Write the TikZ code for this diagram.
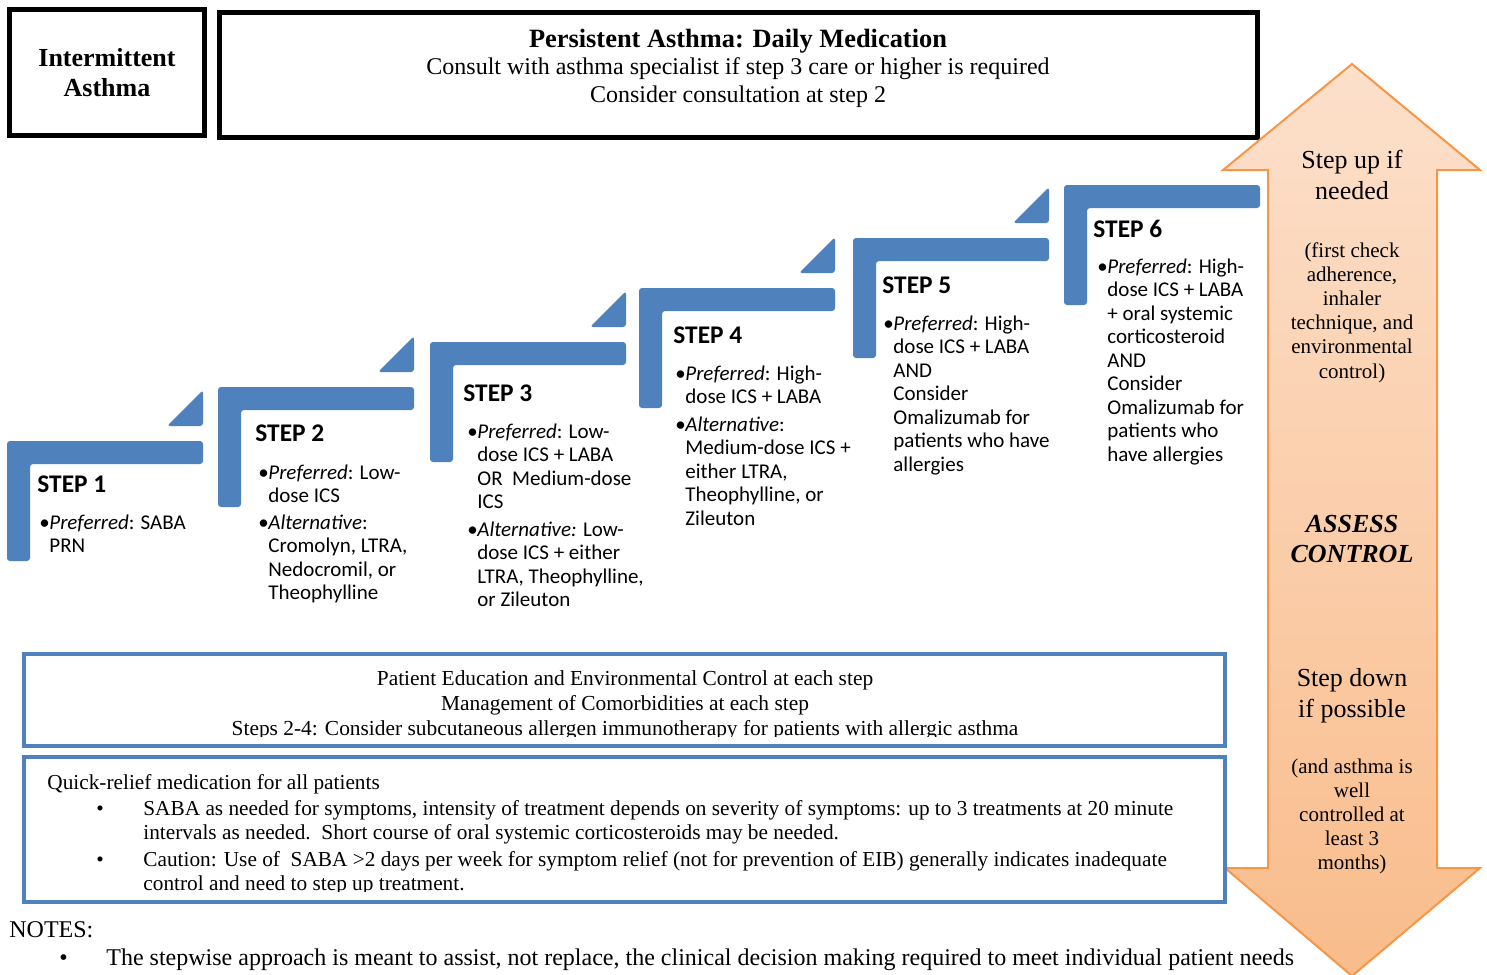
\documentclass[tikz,border=0pt]{standalone}
\usepackage{fontspec}
\setmainfont{Liberation Serif}
\newfontfamily\stepfont{Carlito}
\usetikzlibrary{positioning}
\definecolor{stepblue}{HTML}{4F81BD}
\definecolor{arrowline}{HTML}{F79646}
\definecolor{arrowlight}{HTML}{FCE0CB}
\definecolor{arrowdeep}{HTML}{F9BC8B}
\newcommand{\ctab}[1]{\begin{tabular}[t]{@{}c@{}}#1\end{tabular}}
\newcommand{\ltab}[1]{\begin{tabular}[t]{@{}l@{}}#1\end{tabular}}
\newcommand{\blt}[1]{\makebox[5pt][l]{\textbullet}\ltab{#1}}

\begin{document}
\begin{tikzpicture}[x=0.5pt, y=-0.5pt, inner sep=0pt,
    font=\fontsize{10.65}{12}\selectfont,
    frame/.style={draw, line width=2.5pt},
    bluebox/.style={draw=stepblue, line width=2pt},
    stepbar/.style={fill=stepblue, rounded corners=1.5pt},
    stephead/.style={anchor=base west, font=\stepfont\bfseries\fontsize{12.7}{14}\selectfont},
    stepitem/.style={anchor=base west, font=\stepfont\fontsize{10.5}{11.75}\selectfont},
    txt/.style={anchor=base}]
  \fill[white] (0,0) rectangle (1487,974);
  \useasboundingbox (0,0) rectangle (1487,974);

  % header boxes
  \draw[frame] (9.5,9.5) rectangle (204.5,135.5);
  \node[txt, font=\bfseries\fontsize{13}{15}\selectfont] (intermit) at (107,67)
       {\ctab{Intermittent\\Asthma}};
  \draw[frame] (219.5,12.5) rectangle (1257.5,137.5);
  \node[txt, font=\bfseries\fontsize{13.2}{14}\selectfont] (daily) at (738,48)
       {Persistent Asthma: Daily Medication};
  \node[txt, font=\fontsize{12}{14}\selectfont] (consult) at (738,75)
       {\ctab{Consult with asthma specialist if step 3 care or higher is required\\
              Consider consultation at step 2}};

  % staircase: one bar per step, a wedge between two steps
  \foreach \x/\y in {7/441, 218/387, 430/342, 639/288, 853/238, 1064/185}
    \fill[stepbar] (\x,\y) -- ++(196,0) -- ++(0,23) -- ++(-173,0) -- ++(0,97)
                   -- ++(-23,0) -- cycle;
  \foreach \x/\y in {7/441, 218/387, 430/342, 639/288, 853/238}
    \fill[stepbar] (\x+196,\y-15) -- ++(-36,0) -- ++(36,-36) -- cycle;

  % step texts
  \node[stephead] (st1) at (37,492) {STEP 1};
  \node[stepitem] (st1p) at (39,529) {\blt{\textit{Preferred}: SABA\\PRN}};

  \node[stephead] (st2) at (255,441) {STEP 2};
  \node[stepitem] (st2p) at (258,479) {\blt{\textit{Preferred}: Low-\\dose ICS}};
  \node[stepitem] (st2a) at (258,529)
       {\blt{\textit{Alternative}:\\Cromolyn, LTRA,\\Nedocromil, or\\Theophylline}};

  \node[stephead] (st3) at (463,401) {STEP 3};
  \node[stepitem] (st3p) at (467,438)
       {\blt{\textit{Preferred}: Low-\\dose ICS + LABA\\OR\ \ Medium-dose\\ICS}};
  \node[stepitem] (st3a) at (467,536)
       {\blt{\textit{Alternative:} Low-\\dose ICS + either\\LTRA, Theophylline,\\or Zileuton}};

  \node[stephead] (st4) at (673,343) {STEP 4};
  \node[stepitem] (st4p) at (675,380) {\blt{\textit{Preferred}: High-\\dose ICS + LABA}};
  \node[stepitem] (st4a) at (675,431)
       {\blt{\textit{Alternative}:\\Medium-dose ICS +\\either LTRA,\\Theophylline, or\\Zileuton}};

  \node[stephead] (st5) at (882,293) {STEP 5};
  \node[stepitem] (st5p) at (883,330)
       {\blt{\textit{Preferred}: High-\\dose ICS + LABA\\AND\\Consider\\Omalizumab for\\patients who have\\allergies}};

  \node[stephead] (st6) at (1093,237) {STEP 6};
  \node[stepitem] (st6p) at (1097,273)
       {\blt{\textit{Preferred}: High-\\dose ICS + LABA\\+ oral systemic\\corticosteroid\\AND\\Consider\\Omalizumab for\\patients who\\have allergies}};

  % up/down arrow
  \path[draw=arrowline, line width=1pt, top color=arrowlight, bottom color=arrowdeep]
    (1352,64) -- (1480,170) -- (1437,170) -- (1437,868) -- (1480,868) -- (1352,976)
    -- (1225,868) -- (1268,868) -- (1268,170) -- (1223,170) -- cycle;
  \node[txt, font=\fontsize{13}{15}\selectfont] (up) at (1352,169) {\ctab{Step up if\\needed}};
  \node[txt, font=\fontsize{10.5}{12.1}\selectfont] (upnote) at (1352,257)
       {\ctab{(first check\\adherence,\\inhaler\\technique, and\\environmental\\control)}};
  \node[txt, font=\bfseries\itshape\fontsize{13}{15}\selectfont] (assess) at (1352,532)
       {\ctab{ASSESS\\CONTROL}};
  \node[txt, font=\fontsize{13}{15.5}\selectfont] (down) at (1352,686) {\ctab{Step down\\if possible}};
  \node[txt, font=\fontsize{10.5}{12}\selectfont] (downnote) at (1352,773)
       {\ctab{(and asthma is\\well\\controlled at\\least 3\\months)}};

  % education box
  \draw[bluebox] (24,654) rectangle (1225,746);
  \begin{scope}
    \clip (24,656) rectangle (1225,736);
    \node[txt, font=\fontsize{10.7}{12.5}\selectfont] (educ) at (625,685)
         {\ctab{Patient Education and Environmental Control at each step\\
                Management of Comorbidities at each step\\
                Steps 2-4: Consider subcutaneous allergen immunotherapy for patients with allergic asthma}};
  \end{scope}

  % quick-relief box
  \draw[bluebox] (24,757) rectangle (1225,902);
  \begin{scope}
    \clip (24,759) rectangle (1225,891);
    \node[anchor=base west] (quick) at (47,789) {Quick-relief medication for all patients};
    \node[anchor=base west] (saba) at (96,815)
         {\makebox[23.5pt][l]{\textbullet}\ltab{SABA as needed for symptoms, intensity of treatment depends on severity of symptoms: up to 3 treatments at 20 minute\\
          intervals as needed.\ \ Short course of oral systemic corticosteroids may be needed.}};
    \node[anchor=base west] (caution) at (96,866)
         {\makebox[23.5pt][l]{\textbullet}\ltab{Caution: Use of\ \ SABA >2 days per week for symptom relief (not for prevention of EIB) generally indicates inadequate\\
          control and need to step up treatment.}};
  \end{scope}

  % notes
  \node[anchor=base west, font=\fontsize{12}{14}\selectfont] (notes) at (9,937) {NOTES:};
  \node[anchor=base west, font=\fontsize{12}{14}\selectfont] (stepwise) at (59,965)
       {\makebox[23.5pt][l]{\textbullet}The stepwise approach is meant to assist, not replace, the clinical decision making required to meet individual patient needs};
\end{tikzpicture}
\end{document}
